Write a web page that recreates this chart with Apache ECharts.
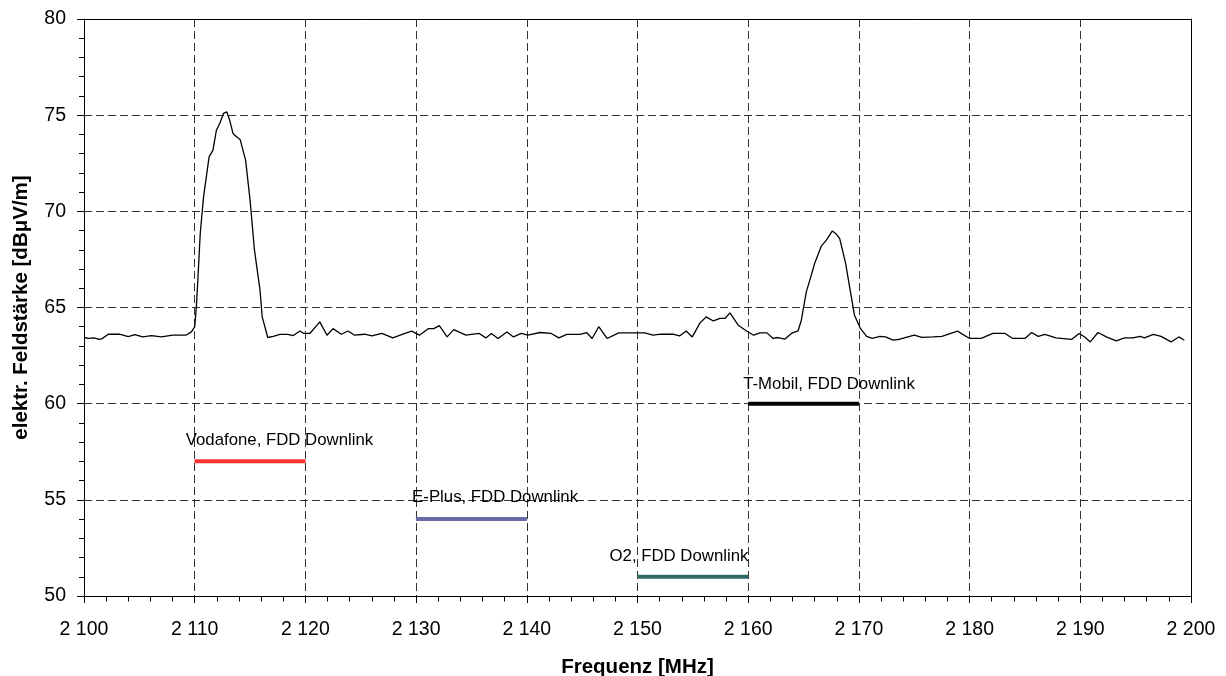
<!DOCTYPE html>
<html>
<head>
<meta charset="utf-8">
<script src="https://cdn.jsdelivr.net/npm/echarts@6/dist/echarts.min.js"></script>
<style>
  html, body { margin: 0; padding: 0; background: #fff; }
  #chart { width: 1226px; height: 676px; }
</style>
</head>
<body>
<div id="chart"></div>
<script>
// Spectrum scan: frequency in MHz and measured field strength in dBµV/m
const freqMHz = [
  2100.0, 2100.4, 2100.9, 2101.3, 2101.6, 2102.2, 2103.2, 2104.0, 2104.6, 2105.3,
  2106.1, 2107.0, 2108.0, 2109.2, 2109.7, 2110.0, 2110.15, 2110.3, 2110.5, 2110.8,
  2111.3, 2111.65, 2111.96, 2112.26, 2112.6, 2112.9, 2113.16, 2113.46, 2113.8, 2114.1,
  2114.6, 2115.0, 2115.4, 2115.9, 2116.1, 2116.6, 2117.1, 2117.7, 2118.4, 2118.9,
  2119.5, 2119.85, 2120.4, 2121.3, 2121.95, 2122.5, 2123.25, 2123.85, 2124.45, 2125.35,
  2126.0, 2126.9, 2127.9, 2128.8, 2129.6, 2130.3, 2131.1, 2131.6, 2132.1, 2132.8,
  2133.4, 2134.5, 2135.7, 2136.3, 2136.8, 2137.4, 2138.2, 2138.8, 2139.5, 2140.1,
  2141.2, 2142.2, 2142.9, 2143.6, 2144.8, 2145.4, 2145.9, 2146.5, 2147.25, 2148.3,
  2149.9, 2150.65, 2151.4, 2152.1, 2153.2, 2153.8, 2154.4, 2154.95, 2155.65, 2156.2,
  2156.85, 2157.45, 2157.9, 2158.35, 2158.5, 2159.1, 2159.85, 2160.5, 2161.05, 2161.7,
  2162.25, 2162.7, 2163.3, 2163.9, 2164.5, 2164.8, 2165.25, 2165.7, 2166.0, 2166.6,
  2167.06, 2167.6, 2167.9, 2168.26, 2168.8, 2169.16, 2169.6, 2170.15, 2170.7, 2171.2,
  2171.9, 2172.4, 2173.1, 2173.7, 2175.0, 2175.7, 2176.7, 2177.5, 2178.9, 2180.0,
  2181.05, 2182.1, 2183.2, 2183.9, 2185.0, 2185.6, 2186.2, 2186.8, 2187.8, 2189.2,
  2189.9, 2190.4, 2190.9, 2191.6, 2192.35, 2193.25, 2194.0, 2194.75, 2195.4, 2195.8,
  2196.6, 2197.3, 2198.2, 2198.9, 2199.4
];
const fieldStrength = [
  63.44, 63.39, 63.42, 63.35, 63.37, 63.61, 63.61, 63.49, 63.59, 63.47,
  63.54, 63.47, 63.56, 63.56, 63.73, 63.99, 65.03, 66.6, 68.85, 70.75,
  72.83, 73.18, 74.22, 74.57, 75.09, 75.17, 74.74, 74.05, 73.87, 73.74,
  72.66, 70.58, 67.98, 65.9, 64.51, 63.44, 63.5, 63.6, 63.6, 63.54,
  63.78, 63.65, 63.65, 64.25, 63.56, 63.9, 63.61, 63.78, 63.56, 63.61,
  63.52, 63.65, 63.42, 63.61, 63.77, 63.56, 63.9, 63.9, 64.06, 63.47,
  63.85, 63.56, 63.65, 63.42, 63.65, 63.39, 63.73, 63.47, 63.65, 63.56,
  63.7, 63.65, 63.42, 63.6, 63.6, 63.7, 63.39, 64.0, 63.39, 63.68,
  63.68, 63.68, 63.56, 63.62, 63.61, 63.52, 63.78, 63.47, 64.2, 64.51,
  64.3, 64.43, 64.43, 64.72, 64.68, 64.08, 63.78, 63.56, 63.68, 63.68,
  63.39, 63.44, 63.35, 63.65, 63.78, 64.34, 65.81, 66.68, 67.29, 68.19,
  68.5, 68.98, 68.85, 68.59, 67.29, 66.07, 64.6, 63.9, 63.5, 63.39,
  63.5, 63.47, 63.3, 63.35, 63.56, 63.45, 63.47, 63.5, 63.77, 63.39,
  63.39, 63.65, 63.65, 63.39, 63.39, 63.7, 63.5, 63.6, 63.42, 63.34,
  63.65, 63.47, 63.21, 63.7, 63.47, 63.26, 63.42, 63.42, 63.5, 63.42,
  63.6, 63.5, 63.21, 63.47, 63.3
];

// Downlink bands of the operators: [start MHz, end MHz] drawn at a fixed level
const bandNames  = ['Vodafone, FDD Downlink', 'E-Plus, FDD Downlink', 'O2, FDD Downlink', 'T-Mobil, FDD Downlink'];
const bandStart  = [2110, 2130, 2150, 2160];
const bandEnd    = [2120, 2140, 2160, 2170];
const bandLevel  = [57, 54, 51, 60];
const bandColors = ['#ff3333', '#6a6aa8', '#2f6a68', '#000000'];
const bandLabelOffset = [[-9, -21], [-4, -22], [-28, -20], [-5, -19]];

// Axis tick labels
const xTickLabels = ['2 100', '2 110', '2 120', '2 130', '2 140', '2 150', '2 160', '2 170', '2 180', '2 190', '2 200'];
const yTickLabels = ['50', '55', '60', '65', '70', '75', '80'];

const FONT = 'Arial, "Liberation Sans", sans-serif';
const xMin = 2100, xMax = 2200, xStep = 10;
const yMin = 50, yMax = 80, yStep = 5;

const chart = echarts.init(document.getElementById('chart'), null, { renderer: 'canvas' });

const spectrum = freqMHz.map((f, i) => [f, fieldStrength[i]]);

const bandSeries = bandNames.map((name, i) => ({
  type: 'line',
  name: name,
  data: [
    {
      value: [bandStart[i], bandLevel[i]],
      label: {
        show: true,
        formatter: name,
        position: 'inside',
        align: 'left',
        verticalAlign: 'middle',
        offset: bandLabelOffset[i],
        color: '#000',
        fontFamily: FONT,
        fontSize: 16.8
      }
    },
    [bandEnd[i], bandLevel[i]]
  ],
  symbol: 'circle',
  symbolSize: 1,
  showSymbol: true,
  itemStyle: { color: bandColors[i] },
  lineStyle: { color: bandColors[i], width: 4 },
  label: { show: false },
  emphasis: { disabled: true },
  silent: true,
  animation: false,
  z: 3
}));

// plain frame line used for the top and right edges of the plot area
const frameAxis = {
  axisLine: { show: true, lineStyle: { color: '#000', width: 1 } },
  axisTick: { show: false },
  axisLabel: { show: false },
  splitLine: { show: false }
};

chart.setOption({
  animation: false,
  backgroundColor: '#fff',
  grid: { left: 84, right: 35, top: 19, bottom: 80, show: false, outerBoundsMode: 'none', containLabel: false },
  xAxis: [
    {
      type: 'value',
      min: xMin, max: xMax, interval: xStep,
      name: 'Frequenz [MHz]',
      nameLocation: 'middle',
      nameGap: 61,
      nameTextStyle: { fontFamily: FONT, fontSize: 20.5, fontWeight: 'bold', color: '#000' },
      axisLine: { show: true, lineStyle: { color: '#000', width: 1 } },
      axisTick: { show: true, inside: false, length: 7, lineStyle: { color: '#000' } },
      minorTick: { show: true, splitNumber: 5, length: 5.5, lineStyle: { color: '#000' } },
      axisLabel: {
        margin: 24, color: '#000', fontFamily: FONT, fontSize: 19.5,
        showMinLabel: true, showMaxLabel: true,
        formatter: (v) => xTickLabels[Math.round((v - xMin) / xStep)]
      },
      splitLine: { show: true, lineStyle: { color: '#333', type: [8, 4], width: 1 } }
    },
    Object.assign({ type: 'value', position: 'top', min: xMin, max: xMax, interval: xStep }, frameAxis)
  ],
  yAxis: [
    {
      type: 'value',
      min: yMin, max: yMax, interval: yStep,
      name: 'elektr. Feldstärke [dBμV/m]',
      nameLocation: 'middle',
      nameGap: 52,
      nameTextStyle: { fontFamily: FONT, fontSize: 20.5, fontWeight: 'bold', color: '#000' },
      axisLine: { show: true, lineStyle: { color: '#000', width: 1 } },
      axisTick: { show: true, inside: false, length: 7, lineStyle: { color: '#000' } },
      minorTick: { show: true, splitNumber: 5, length: 5, lineStyle: { color: '#000' } },
      axisLabel: {
        margin: 18, color: '#000', fontFamily: FONT, fontSize: 19.5,
        formatter: (v) => yTickLabels[Math.round((v - yMin) / yStep)]
      },
      splitLine: { show: true, lineStyle: { color: '#333', type: [8, 4], width: 1 } }
    },
    Object.assign({ type: 'value', position: 'right', min: yMin, max: yMax, interval: yStep }, frameAxis)
  ],
  series: [
    {
      type: 'line',
      name: 'Feldstärke',
      data: spectrum,
      showSymbol: false,
      symbol: 'none',
      lineStyle: { color: '#000', width: 1.3 },
      emphasis: { disabled: true },
      silent: true,
      z: 4
    }
  ].concat(bandSeries)
});
</script>
</body>
</html>
